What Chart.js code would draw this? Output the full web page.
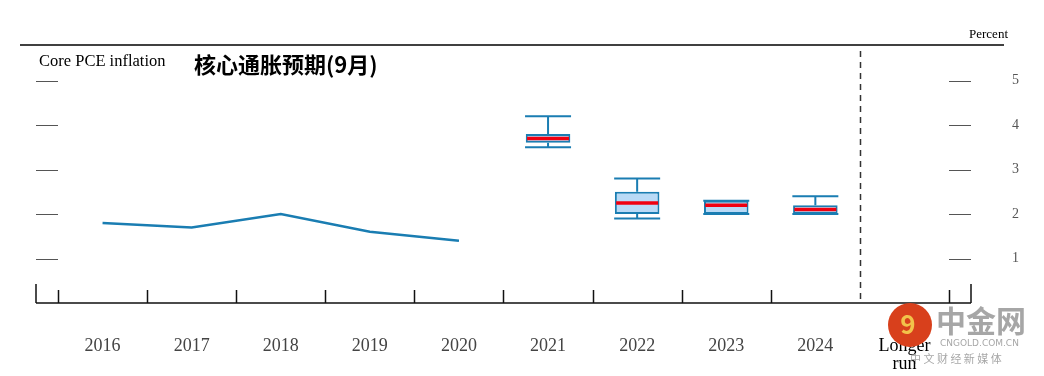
<!DOCTYPE html>
<html>
<head>
<meta charset="utf-8">
<script src="https://cdn.jsdelivr.net/npm/chart.js@4"></script>
<style>
  html, body { margin: 0; padding: 0; background: #fff; }
  #wrap { width: 1044px; height: 376px; position: relative; }
</style>
</head>
<body>
<div id="wrap"><canvas id="myChart" width="1044" height="376"></canvas></div>
<script>
const years = ['2016', '2017', '2018', '2019', '2020', '2021', '2022', '2023', '2024', ['Longer', 'run']]
// actual core PCE inflation
const history = [1.8, 1.7, 2.0, 1.6, 1.4, null, null, null, null, null]
// projections: central tendency, range, median
const ctLow   = [null, null, null, null, null, 3.6, 2.0, 2.0, 2.0, null]
const ctHigh  = [null, null, null, null, null, 3.8, 2.5, 2.3, 2.2, null]
const rangeLow  = [null, null, null, null, null, 3.5, 1.9, 2.0, 2.0, null]
const rangeHigh = [null, null, null, null, null, 4.2, 2.8, 2.3, 2.4, null]
const median    = [null, null, null, null, null, 3.7, 2.25, 2.2, 2.1, null]
const yTicks = [1, 2, 3, 4, 5]

const blue = '#1a7db2'
const serif = '"Liberation Serif", "DejaVu Serif", serif'

const boxes = ctLow.map((lo, i) => lo == null ? null : [lo, ctHigh[i]])

// whiskers drawn under the boxes
const whiskers = {
  id: 'whiskers',
  beforeDatasetsDraw(chart) {
    const { ctx, scales: { x, y } } = chart
    ctx.save()
    ctx.strokeStyle = blue
    ctx.lineWidth = 2
    rangeLow.forEach((lo, i) => {
      if (lo == null) return
      const cx = x.getPixelForValue(i)
      const half = 23
      ctx.beginPath()
      ctx.moveTo(cx, y.getPixelForValue(rangeHigh[i]))
      ctx.lineTo(cx, y.getPixelForValue(ctHigh[i]))
      ctx.moveTo(cx, y.getPixelForValue(ctLow[i]))
      ctx.lineTo(cx, y.getPixelForValue(lo))
      ctx.moveTo(cx - half, y.getPixelForValue(rangeHigh[i]))
      ctx.lineTo(cx + half, y.getPixelForValue(rangeHigh[i]))
      ctx.moveTo(cx - half, y.getPixelForValue(lo))
      ctx.lineTo(cx + half, y.getPixelForValue(lo))
      ctx.stroke()
    })
    ctx.restore()
  }
}

// frame, ticks, dashed divider and texts
const decor = {
  id: 'decor',
  afterDraw(chart) {
    const { ctx, chartArea: a, scales: { x, y } } = chart
    const step = x.getPixelForValue(1) - x.getPixelForValue(0)
    const left = a.left - 22, right = a.right + 22
    ctx.save()

    // top rule
    ctx.strokeStyle = '#000'
    ctx.lineWidth = 1.5
    ctx.beginPath()
    ctx.moveTo(20, a.top)
    ctx.lineTo(1004, a.top)
    ctx.stroke()

    // bottom axis
    ctx.strokeStyle = '#111'
    ctx.lineWidth = 1.5
    ctx.beginPath()
    ctx.moveTo(left, a.bottom)
    ctx.lineTo(right, a.bottom)
    ctx.moveTo(left, a.bottom)
    ctx.lineTo(left, a.bottom - 19)
    ctx.moveTo(right, a.bottom)
    ctx.lineTo(right, a.bottom - 19)
    for (let i = 0; i <= years.length; i++) {
      if (i === 9) continue
      const px = Math.round(x.getPixelForValue(i) - step / 2) + 0.5
      ctx.moveTo(px, a.bottom)
      ctx.lineTo(px, a.bottom - 13)
    }
    ctx.stroke()

    // dashed divider before longer run
    const dx = Math.round(x.getPixelForValue(9) - step / 2) + 0.5
    ctx.setLineDash([6, 5])
    ctx.strokeStyle = '#333'
    ctx.beginPath()
    ctx.moveTo(dx, a.top + 6)
    ctx.lineTo(dx, a.bottom)
    ctx.stroke()
    ctx.setLineDash([])

    // short tick marks on both sides
    ctx.strokeStyle = '#555'
    ctx.lineWidth = 1.2
    ctx.beginPath()
    yTicks.forEach(v => {
      const py = Math.round(y.getPixelForValue(v)) + 0.5
      ctx.moveTo(left, py)
      ctx.lineTo(a.left, py)
      ctx.moveTo(a.right, py)
      ctx.lineTo(right, py)
    })
    ctx.stroke()

    // texts
    ctx.fillStyle = '#000'
    ctx.textBaseline = 'middle'
    ctx.font = '16.5px ' + serif
    ctx.fillText('Core PCE inflation', 39, 62)
    ctx.font = 'bold 22px "Noto Sans CJK SC", sans-serif'
    ctx.fillText('核心通胀预期(9月)', 194, 65)
    ctx.font = '13px ' + serif
    ctx.textAlign = 'right'
    ctx.fillText('Percent', 1008, 35)

    // watermark
    ctx.textAlign = 'left'
    ctx.fillStyle = '#d8401c'
    ctx.beginPath()
    ctx.arc(910, 325, 22, 0, Math.PI * 2)
    ctx.fill()
    ctx.fillStyle = '#f2c24a'
    ctx.font = 'bold 26px "Noto Sans CJK SC", sans-serif'
    ctx.textAlign = 'center'
    ctx.fillText('9', 908, 324)
    ctx.textAlign = 'left'
    ctx.fillStyle = 'rgba(150,150,150,0.85)'
    ctx.font = 'bold 30px "Noto Sans CJK SC", sans-serif'
    ctx.fillText('中金网', 936, 321)
    ctx.font = '9px "DejaVu Sans", sans-serif'
    ctx.fillText('CNGOLD.COM.CN', 940, 344)
    ctx.font = '11px "Noto Sans CJK SC", sans-serif'
    ctx.fillText('中 文 财 经 新 媒 体', 910, 359)

    ctx.restore()
  }
}

const config = {
  type: 'bar',
  data: {
    labels: years,
    datasets: [
      {
        type: 'line',
        label: 'Core PCE',
        data: history,
        borderColor: blue,
        borderWidth: 2.5,
        pointRadius: 0,
        fill: false,
        order: 0
      },
      {
        type: 'line',
        label: 'Median',
        data: median,
        showLine: false,
        pointStyle: 'line',
        pointRadius: 21,
        pointBorderWidth: 3.5,
        pointBorderColor: '#f00010',
        order: 0
      },
      {
        label: 'Central tendency',
        data: boxes,
        backgroundColor: '#b9daf6',
        borderColor: blue,
        borderWidth: 2,
        borderSkipped: false,
        barPercentage: 0.5,
        categoryPercentage: 1,
        grouped: false,
        order: 1
      }
    ]
  },
  options: {
    animation: false,
    responsive: false,
    events: [],
    layout: { padding: { left: 58, top: 45, right: 0, bottom: 0 } },
    plugins: {
      legend: { display: false },
      tooltip: { enabled: false }
    },
    scales: {
      x: {
        grid: { display: false, drawTicks: false },
        border: { display: false },
        afterFit: s => { s.height = 73 },
        ticks: {
          padding: 34,
          autoSkip: false,
          maxRotation: 0,
          color: ctx => ctx.index === 9 ? '#000' : '#444',
          font: { family: serif, size: 18, lineHeight: 1.0 }
        }
      },
      y: {
        position: 'right',
        min: 0,
        max: 5.8,
        grid: { display: false, drawTicks: false },
        border: { display: false },
        // tick padding would otherwise push the chart area down
        afterFit: s => { s.width = 95; s.paddingTop = 0; s.paddingBottom = 0 },
        afterBuildTicks: s => { s.ticks = yTicks.map(v => ({ value: v })) },
        ticks: {
          padding: 63,
          color: '#555',
          font: { family: serif, size: 14 }
        }
      }
    }
  },
  plugins: [whiskers, decor]
}

const myChart = new Chart(document.getElementById('myChart'), config)
</script>
</body>
</html>
